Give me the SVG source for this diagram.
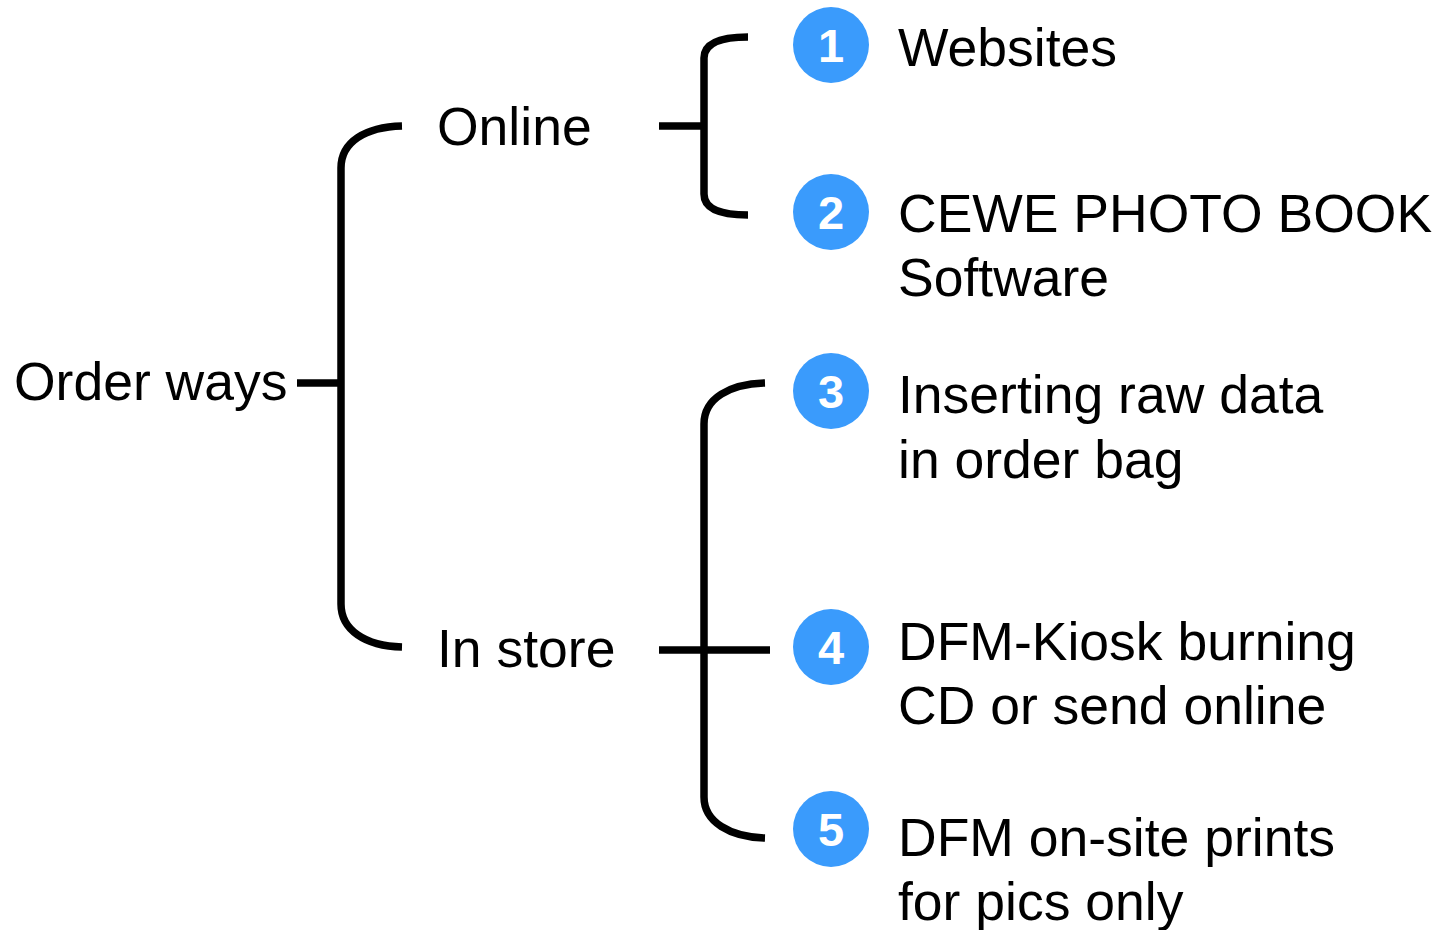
<svg xmlns="http://www.w3.org/2000/svg" width="1437" height="930" viewBox="0 0 1437 930">
<style>
.t{font-family:"Liberation Sans",Arial,sans-serif;font-size:53.5px;fill:#000}
.n{font-family:"Liberation Sans",Arial,sans-serif;font-size:47px;font-weight:bold;fill:#fff;text-anchor:middle}
.c{fill:#3a9bfc}
.l{fill:none;stroke:#000;stroke-width:7.5}
</style>
<rect width="1437" height="930" fill="#fff"/>
<g id="connectors">
<path class="l" d="M297,383 H341"/>
<path class="l" d="M402,126 C365,127 341,142 341,168 V604 C341,630 365,646 402,647"/>
<path class="l" d="M659,126 H704"/>
<path class="l" d="M748,37 C722,37 704,43 704,58 V194 C704,209 722,215 748,215"/>
<path class="l" d="M659,650 H770"/>
<path class="l" d="M765,383 C730,384 704,398 704,424 V797 C704,822 730,837 765,838"/>
</g>
<g id="root"><text class="t" x="14" y="400">Order ways</text></g>
<g id="online"><text class="t" x="437" y="145">Online</text></g>
<g id="instore"><text class="t" x="437" y="667">In store</text></g>
<g id="item1"><circle class="c" cx="831" cy="45" r="38"/><text class="n" x="831" y="62">1</text><text class="t" x="898" y="66">Websites</text></g>
<g id="item2"><circle class="c" cx="831" cy="212" r="38"/><text class="n" x="831" y="229">2</text><text class="t" x="898" y="232">CEWE PHOTO BOOK</text><text class="t" x="898" y="296">Software</text></g>
<g id="item3"><circle class="c" cx="831" cy="391" r="38"/><text class="n" x="831" y="408">3</text><text class="t" x="898" y="413">Inserting raw data</text><text class="t" x="898" y="478">in order bag</text></g>
<g id="item4"><circle class="c" cx="831" cy="647" r="38"/><text class="n" x="831" y="664">4</text><text class="t" x="898" y="660">DFM-Kiosk burning</text><text class="t" x="898" y="724">CD or send online</text></g>
<g id="item5"><circle class="c" cx="831" cy="829" r="38"/><text class="n" x="831" y="846">5</text><text class="t" x="898" y="856">DFM on-site prints</text><text class="t" x="898" y="920">for pics only</text></g>
</svg>
